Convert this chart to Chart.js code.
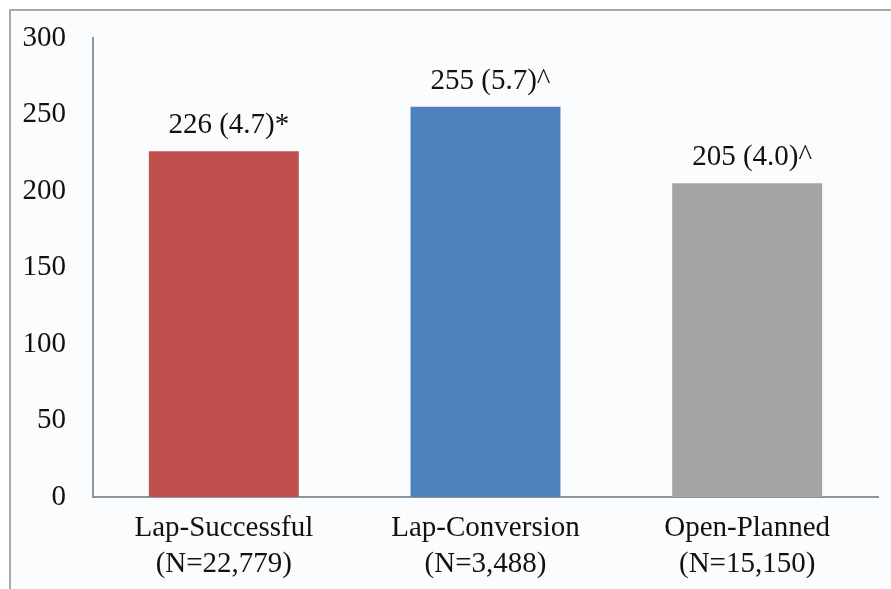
<!DOCTYPE html>
<html>
<head>
<meta charset="utf-8">
<script src="https://cdn.jsdelivr.net/npm/chart.js@4"></script>
<style>
  html, body { margin: 0; padding: 0; background: #ffffff; }
  #wrap { width: 891px; height: 589px; }
</style>
</head>
<body>
<div id="wrap"><canvas id="myChart-Operative"></canvas></div>
<script>
const groups = [['Lap-Successful', '(N=22,779)'], ['Lap-Conversion', '(N=3,488)'], ['Open-Planned', '(N=15,150)']];
const means = [226, 255, 205];
const stdErr = ['4.7', '5.7', '4.0'];
const marks = ['*', '^', '^'];
const barColors = ['#c0504d', '#4f81bd', '#a5a5a5'];
const yTicks = [0, 50, 100, 150, 200, 250, 300];

const serif = '"Liberation Serif", "Times New Roman", serif';

// light panel with a thin frame on the top and left edges
const panel = {
  id: 'panel',
  beforeDraw(chart) {
    const c = chart.ctx;
    c.save();
    c.fillStyle = '#fbfcfe';
    c.fillRect(10, 10, chart.width - 10, chart.height - 10);
    c.strokeStyle = '#a8a8a8';
    c.lineWidth = 2;
    c.beginPath();
    c.moveTo(10, chart.height);
    c.lineTo(10, 10);
    c.lineTo(chart.width, 10);
    c.stroke();
    c.restore();
  }
};

// mean (SE) text above each bar
const valueLabels = {
  id: 'valueLabels',
  afterDatasetsDraw(chart) {
    const c = chart.ctx;
    const meta = chart.getDatasetMeta(0);
    c.save();
    c.font = '29px ' + serif;
    c.fillStyle = '#111111';
    c.textAlign = 'center';
    c.textBaseline = 'alphabetic';
    meta.data.forEach((bar, i) => {
      const txt = means[i] + ' (' + stdErr[i] + ')' + marks[i];
      c.fillText(txt, bar.x + 5, bar.y - 18);
    });
    c.restore();
  }
};

const ctxOperative = document.getElementById('myChart-Operative');

new Chart(ctxOperative, {
  type: 'bar',
  data: {
    labels: groups,
    datasets: [{
      data: means,
      backgroundColor: barColors,
      borderWidth: 0,
      categoryPercentage: 1,
      barPercentage: 0.573
    }]
  },
  options: {
    responsive: true,
    maintainAspectRatio: false,
    animation: false,
    layout: { padding: { top: 38, right: 13, left: 0, bottom: 0 } },
    plugins: {
      legend: { display: false },
      tooltip: { enabled: false }
    },
    scales: {
      x: {
        grid: { display: false, drawTicks: false },
        border: { display: true, color: '#8c969c', width: 2 },
        ticks: {
          color: '#111111',
          padding: 13,
          font: { family: serif, size: 29, lineHeight: '36px' },
          maxRotation: 0
        },
        afterFit(scale) { scale.height = 92; }
      },
      y: {
        min: 0,
        max: 300,
        grid: { display: false, drawTicks: false },
        border: { display: true, color: '#8c969c', width: 2 },
        afterBuildTicks(scale) { scale.ticks = yTicks.map(v => ({ value: v })); },
        ticks: {
          color: '#111111',
          padding: 27,
          font: { family: serif, size: 29 }
        },
        afterFit(scale) {
          // tick padding would otherwise push the plot top down
          scale.width = 93;
          scale.paddingTop = 0;
          scale.paddingBottom = 0;
        }
      }
    }
  },
  plugins: [panel, valueLabels]
});
</script>
</body>
</html>
